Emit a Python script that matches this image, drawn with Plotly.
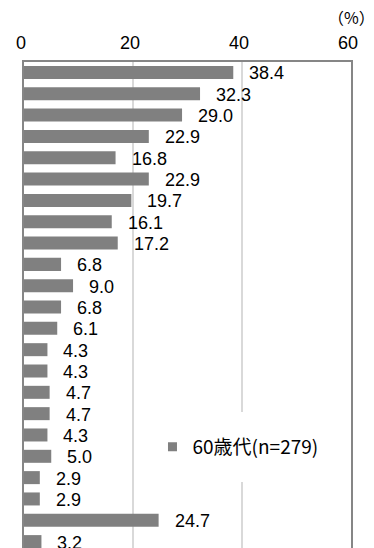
import plotly.graph_objects as go

items = ["項目01", "項目02", "項目03", "項目04", "項目05", "項目06", "項目07", "項目08",
         "項目09", "項目10", "項目11", "項目12", "項目13", "項目14", "項目15", "項目16",
         "項目17", "項目18", "項目19", "項目20", "項目21", "項目22", "項目23"]
values = [38.4, 32.3, 29.0, 22.9, 16.8, 22.9, 19.7, 16.1, 17.2, 6.8, 9.0, 6.8,
          6.1, 4.3, 4.3, 4.7, 4.7, 4.3, 5.0, 2.9, 2.9, 24.7, 3.2]
series_name = "60歳代(n=279)"
x_ticks = [0, 20, 40, 60]
unit_label = "（%）"

BAR = "#808080"
LAB_FONT = "Liberation Sans, Arial, sans-serif"
CJK_FONT = "Noto Sans CJK JP, sans-serif"

fig = go.Figure()
fig.add_trace(go.Bar(
    x=values, y=items, orientation="h", marker=dict(color=BAR, line=dict(width=0)),
    showlegend=False, hoverinfo="x",
))
# legend entry (square marker)
fig.add_trace(go.Scatter(
    x=[None], y=[None], mode="markers", name=series_name,
    marker=dict(symbol="square", size=9, color=BAR), showlegend=True,
))

annotations = []
for cat, v in zip(items, values):
    annotations.append(dict(
        x=v, y=cat, xref="x", yref="y", text=f"{v:.1f}", showarrow=False,
        xanchor="left", yanchor="middle", xshift=14, yshift=-1,
        font=dict(family=LAB_FONT, size=18, color="#000000"),
    ))
annotations.append(dict(
    x=1.081, y=1.0936, xref="paper", yref="paper", text=unit_label, showarrow=False,
    xanchor="right", yanchor="middle",
    font=dict(family=CJK_FONT, size=16, color="#000000"),
))

n = len(items)
fig.update_layout(
    width=374, height=548,
    margin=dict(l=24, r=23, t=62, b=0, pad=0),
    paper_bgcolor="white", plot_bgcolor="white",
    bargap=0.39,
    annotations=annotations,
    showlegend=True,
    legend=dict(
        x=0.344, y=0.208, xanchor="left", yanchor="middle",
        bgcolor="white", bordercolor="white", borderwidth=16,
        font=dict(family=CJK_FONT, size=19, color="#000000"),
        itemwidth=30,
    ),
    xaxis=dict(
        side="top", range=[0, 60], tickvals=x_ticks,
        ticktext=[str(t) for t in x_ticks],
        showgrid=True, gridcolor="#d9d9d9", gridwidth=2,
        showline=True, linecolor="#868686", linewidth=2, mirror=False,
        ticks="", zeroline=False,
        tickfont=dict(family=LAB_FONT, size=18, color="#000000"),
        ticklabelshift=-3, ticklabelstandoff=4,
        fixedrange=True,
    ),
    yaxis=dict(
        type="category", categoryorder="array", categoryarray=items,
        range=[n - 1 + 0.3, -0.49],
        showticklabels=False, ticks="", showgrid=False, zeroline=False,
        showline=True, linecolor="#868686", linewidth=2, mirror=True,
        fixedrange=True,
    ),
)

fig.write_html(
    "out.html",
    config={"displayModeBar": False},
    post_script="document.body.style.margin='0';document.body.style.overflow='hidden';",
)
